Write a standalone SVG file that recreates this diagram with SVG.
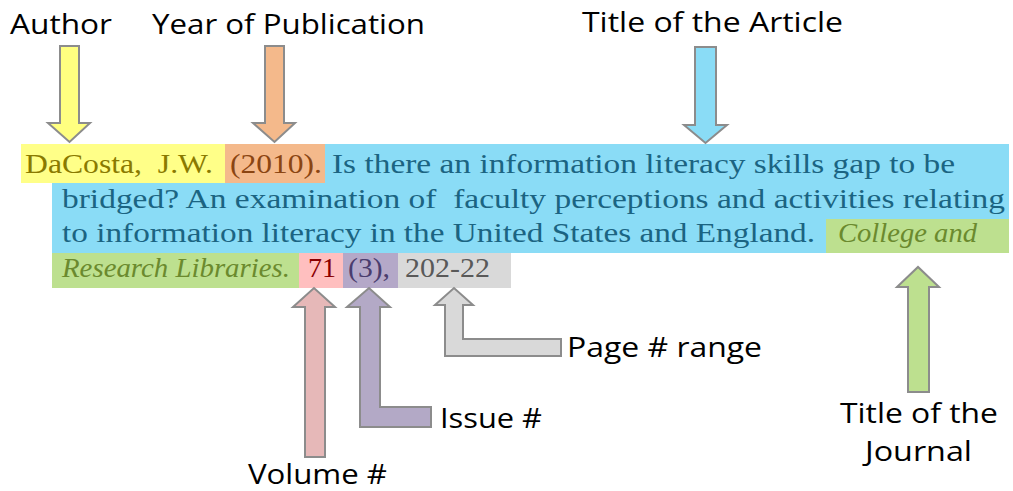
<svg xmlns="http://www.w3.org/2000/svg" width="1013" height="491" viewBox="0 0 1013 491">
<style>
.lbl{font-family:"Open Sans","Noto Sans","Liberation Sans",sans-serif;font-size:28px;fill:#000}
.ref{font-family:"Liberation Serif","DejaVu Serif",serif;font-size:27px}
.it{font-style:italic}
.arr{stroke:#8c8c8c;stroke-width:2;stroke-linejoin:miter}
</style>
<rect width="1013" height="491" fill="#fff"/>
<g id="citation">
<rect x="21" y="144" width="204" height="39" fill="#ffff88"/>
<rect x="225" y="144" width="100" height="39" fill="#f4b98b"/>
<rect x="325" y="144" width="684" height="39" fill="#8adcf6"/>
<rect x="52" y="183" width="957" height="36" fill="#8adcf6"/>
<rect x="52" y="219" width="774" height="34" fill="#8adcf6"/>
<rect x="826" y="219" width="183" height="34" fill="#bde08f"/>
<rect x="52" y="253" width="247" height="35" fill="#bde08f"/>
<rect x="299" y="253" width="44" height="35" fill="#ffbfbf"/>
<rect x="343" y="253" width="55" height="35" fill="#b4a8c8"/>
<rect x="398" y="253" width="113" height="35" fill="#d9d9d9"/>
<text class="ref" x="25" y="173" fill="#8a7a00" xml:space="preserve" textLength="188" lengthAdjust="spacingAndGlyphs">DaCosta,  J.W.</text>
<text class="ref" x="230" y="173" fill="#8b4512" textLength="92" lengthAdjust="spacingAndGlyphs">(2010).</text>
<text class="ref" x="332" y="173" fill="#1b6482" textLength="623" lengthAdjust="spacingAndGlyphs">Is there an information literacy skills gap to be</text>
<text class="ref" x="62" y="208" fill="#1b6482" xml:space="preserve" textLength="943" lengthAdjust="spacingAndGlyphs">bridged? An examination of  faculty perceptions and activities relating</text>
<text class="ref" x="62" y="242" fill="#1b6482" textLength="753" lengthAdjust="spacingAndGlyphs">to information literacy in the United States and England.</text>
<text class="ref it" x="838" y="242" fill="#6b8a2e" textLength="139" lengthAdjust="spacingAndGlyphs">College and</text>
<text class="ref it" x="62" y="277" fill="#6b8a2e" textLength="228" lengthAdjust="spacingAndGlyphs">Research Libraries.</text>
<text class="ref" x="308" y="277" fill="#8b0000" textLength="28" lengthAdjust="spacingAndGlyphs">71</text>
<text class="ref" x="348" y="277" fill="#4a3d6e" textLength="42" lengthAdjust="spacingAndGlyphs">(3),</text>
<text class="ref" x="405" y="277" fill="#595959" textLength="85" lengthAdjust="spacingAndGlyphs">202-22</text>
</g>
<g id="connectors">
<path class="arr" fill="#ffff80" d="M60,46 H79 V123 H90 L69.5,142 L48,123 H60 Z"/>
<path class="arr" fill="#f4b98b" d="M265,46 H284 V123 H295 L274.5,142 L253,123 H265 Z"/>
<path class="arr" fill="#8adcf6" d="M695,47 H716 V125 H727 L705.5,143 L684,125 H695 Z"/>
<path class="arr" fill="#e6b8b8" d="M305,457 V307 H293 L314,288 L335,307 H325 V457 Z"/>
<path class="arr" fill="#b3a9c6" d="M360,427 V307 H347 L369,288 L390,307 H380 V407 H431 V427 Z"/>
<path class="arr" fill="#d9d9d9" d="M445,356 V305 H435 L454,288 L473,305 H463 V339 H561 V356 Z"/>
<path class="arr" fill="#bde08f" d="M908,392 V287 H897 L918,267 L939,287 H929 V392 Z"/>
</g>
<g id="label-author"><text class="lbl" x="10" y="34" textLength="102" lengthAdjust="spacingAndGlyphs">Author</text></g>
<g id="label-year"><text class="lbl" x="152" y="34" textLength="273" lengthAdjust="spacingAndGlyphs">Year of Publication</text></g>
<g id="label-article"><text class="lbl" x="582" y="32" textLength="261" lengthAdjust="spacingAndGlyphs">Title of the Article</text></g>
<g id="label-page"><text class="lbl" x="567" y="357" textLength="195" lengthAdjust="spacingAndGlyphs">Page # range</text></g>
<g id="label-issue"><text class="lbl" x="440" y="428" textLength="102" lengthAdjust="spacingAndGlyphs">Issue #</text></g>
<g id="label-volume"><text class="lbl" x="248" y="484" textLength="139" lengthAdjust="spacingAndGlyphs">Volume #</text></g>
<g id="label-journal">
<text class="lbl" x="840" y="423" textLength="158" lengthAdjust="spacingAndGlyphs">Title of the</text>
<text class="lbl" x="865" y="461" textLength="107" lengthAdjust="spacingAndGlyphs">Journal</text>
</g>
</svg>
